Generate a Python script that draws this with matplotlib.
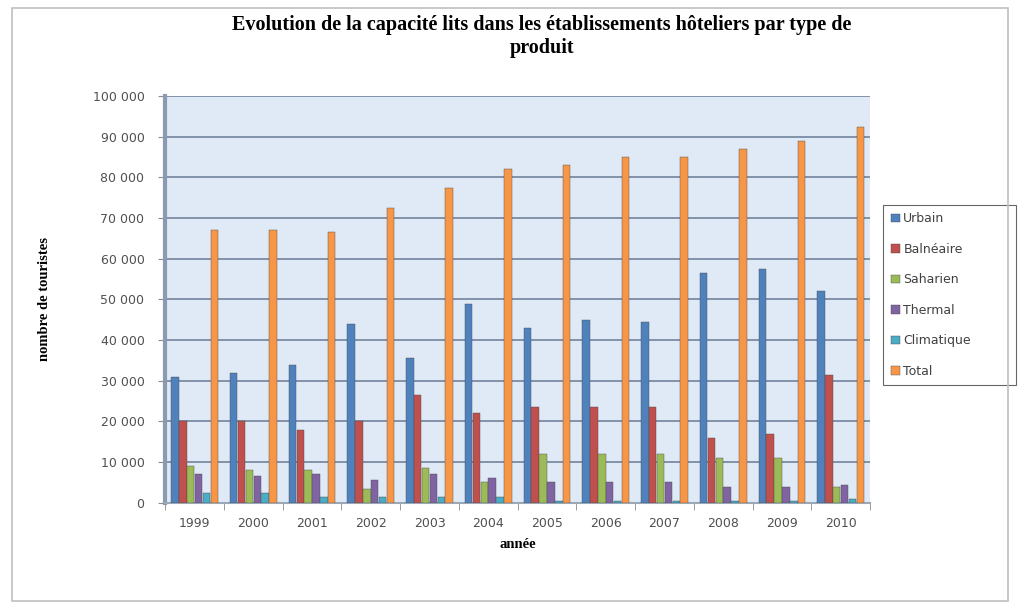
import numpy as np
import matplotlib.pyplot as plt
from matplotlib.patches import Rectangle
from matplotlib.ticker import FuncFormatter

annees = ['1999', '2000', '2001', '2002', '2003', '2004', '2005', '2006', '2007', '2008', '2009', '2010']
urbain = [31000, 32000, 34000, 44000, 35500, 49000, 43000, 45000, 44500, 56500, 57500, 52000]
balneaire = [20000, 20000, 18000, 20000, 26500, 22000, 23500, 23500, 23500, 16000, 17000, 31500]
saharien = [9000, 8000, 8000, 3500, 8500, 5000, 12000, 12000, 12000, 11000, 11000, 4000]
thermal = [7000, 6500, 7000, 5500, 7000, 6000, 5000, 5000, 5000, 4000, 4000, 4500]
climatique = [2500, 2500, 1500, 1500, 1500, 1500, 500, 500, 500, 500, 500, 1000]
total = [67000, 67000, 66500, 72500, 77500, 82000, 83000, 85000, 85000, 87000, 89000, 92500]

series = [
    ('Urbain', urbain, '#4F81BD'),
    ('Balnéaire', balneaire, '#C0504D'),
    ('Saharien', saharien, '#9BBB59'),
    ('Thermal', thermal, '#8064A2'),
    ('Climatique', climatique, '#4BACC6'),
    ('Total', total, '#F79646'),
]

fig = plt.figure(figsize=(10.2, 6.08), dpi=100)
# cadre du graphique
fig.patches.append(Rectangle((0.012, 0.012), 0.976, 0.975, transform=fig.transFigure,
                             fill=False, edgecolor='#bfbfbf', linewidth=1.2))

ax = fig.add_axes([0.162, 0.173, 0.691, 0.669])
ax.set_facecolor('#dfeaf6')

x = np.arange(len(annees))
w = 0.134
for i, (nom, vals, coul) in enumerate(series):
    ax.bar(x + (i - 2.5) * w, vals, width=w * 0.95, color=coul, label=nom,
           edgecolor='#4a4a4a', linewidth=0.3, zorder=3)

ax.set_xlim(-0.5, len(annees) - 0.5)
ax.set_ylim(0, 100000)
ax.set_yticks(range(0, 100001, 10000))
ax.yaxis.set_major_formatter(FuncFormatter(lambda v, p: f'{int(v):,}'.replace(',', ' ')))
ax.grid(axis='y', color='#7a8ba3', linewidth=1.3, zorder=1)
ax.set_axisbelow(True)

ax.set_xticks(x)
ax.set_xticklabels(annees)
ax.set_xticks(np.arange(-0.5, len(annees)), minor=True)
ax.tick_params(axis='x', which='major', length=0, pad=10, labelsize=9, labelcolor='#505050')
ax.tick_params(axis='x', which='minor', length=5, color='#8c8c8c')
ax.tick_params(axis='y', length=5, color='#8c8c8c', labelsize=9, labelcolor='#505050', pad=10)

for s in ['top', 'right']:
    ax.spines[s].set_visible(False)
ax.spines['left'].set_color('#8a9bb0')
ax.spines['left'].set_linewidth(3)
ax.spines['bottom'].set_color('#9aa8b8')
ax.spines['bottom'].set_linewidth(1.5)

ax.set_xlabel('année', fontfamily='Liberation Serif', fontweight='bold', fontsize=10.5, labelpad=6)
ax.set_ylabel('nombre de touristes', fontfamily='Liberation Serif', fontweight='bold', fontsize=10.5, labelpad=30)

fig.text(0.531, 0.975, 'Evolution de la capacité lits dans les établissements hôteliers par type de\nproduit',
         ha='center', va='top', fontfamily='Liberation Serif', fontweight='bold', fontsize=14.5,
         linespacing=1.2)

leg = ax.legend(loc='upper left', bbox_to_anchor=(0.866, 0.359, 0.13, 0.304), bbox_transform=fig.transFigure,
                mode='expand', frameon=True, fancybox=False, edgecolor='#404040', fontsize=9,
                handlelength=0.7, handleheight=0.7, handletextpad=0.3, labelspacing=1.4,
                borderaxespad=0, borderpad=0.6)
leg.get_frame().set_linewidth(0.8)
for t in leg.get_texts():
    t.set_color('#404040')

fig.savefig('out.png', dpi=100)
